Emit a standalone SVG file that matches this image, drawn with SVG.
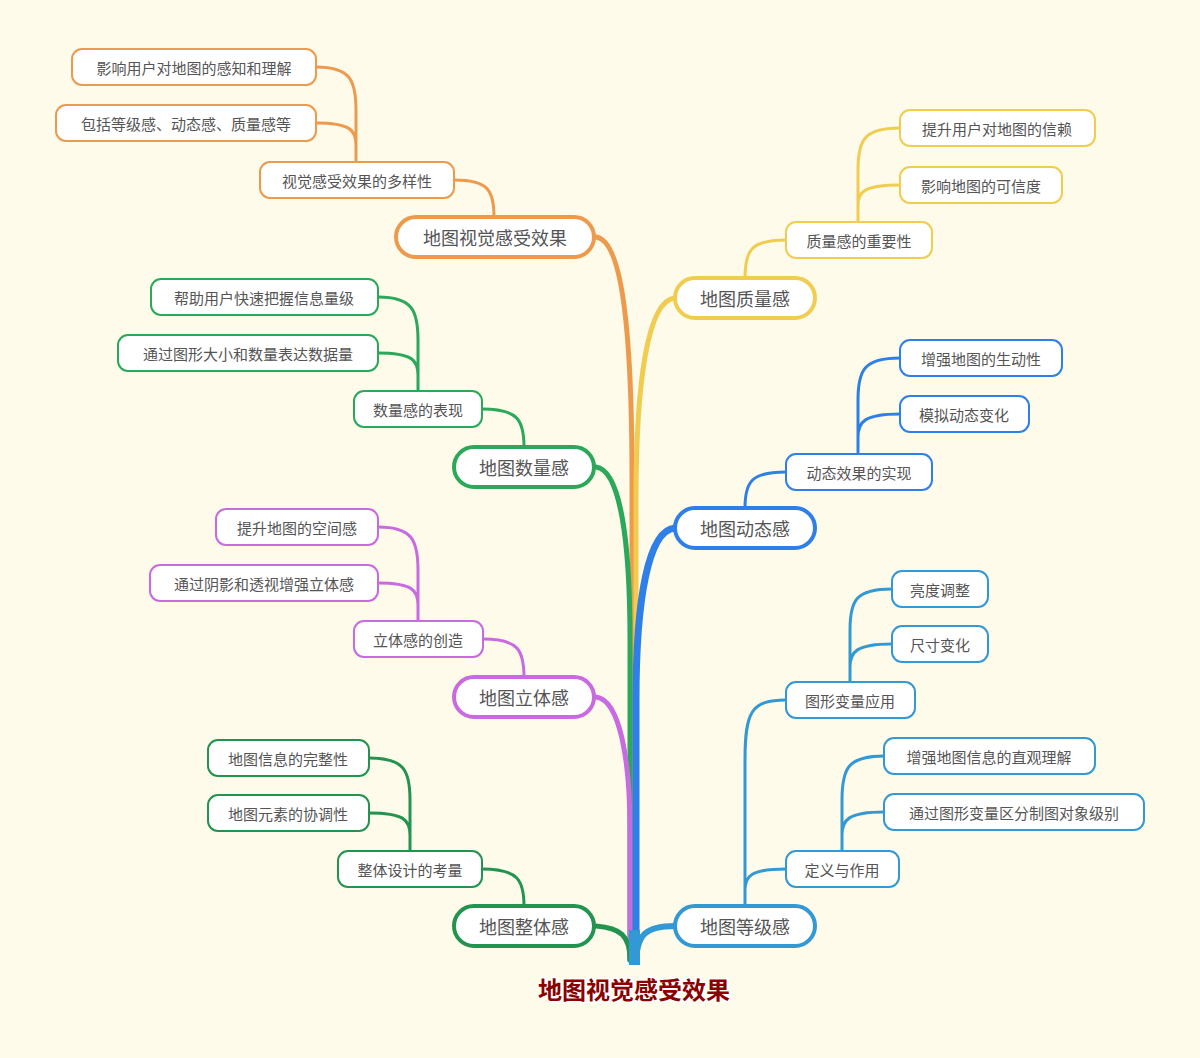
<svg xmlns="http://www.w3.org/2000/svg" width="1200" height="1058" viewBox="0 0 1200 1058">
<style>
text{font-family:"Noto Sans CJK SC","Noto Sans",sans-serif;fill:#555;text-anchor:middle;dominant-baseline:central}
.m rect{fill:#fff;stroke-width:4}
.m text{font-size:18px}
.s rect{fill:#fff;stroke-width:2}
.s text{font-size:15px}
#conn path{fill:none;stroke-linecap:round}
.c1{stroke-width:3}
.t{stroke-width:5}
</style>
<rect width="1200" height="1058" fill="#FEFBEA"/>
<g id="conn">
<path class="t" stroke="#EE9A4D" d="M596,237 C622,240 632,330 632,480 L632,960"/>
<path class="t" stroke="#F0CC50" d="M675,298 C648,300 636,380 636,500 L636,960"/>
<path class="t" stroke="#2BA85A" d="M596,467 C620,470 630,540 630,640 L630,960"/>
<path class="t" stroke="#C86AE0" d="M596,697 C620,700 630,760 630,830 L630,960"/>
<path stroke="#2F7FE8" stroke-width="7" d="M675,528 C648,530 636,600 636,700 L636,960"/>
<path stroke="#23944F" stroke-width="5" d="M596,926 C620,928 630,935 630,960"/>
<path stroke="#3399D4" stroke-width="6" d="M675,926 C645,926 637,935 636,962"/>
<rect x="629" y="930" width="11" height="35" fill="#3399D4"/>
<path class="c1" stroke="#EE9A4D" d="M316,67 C350,67 356,80 356,110 L356,162 M316,123 C350,123 356,130 356,145 M454,180 C488,180 494,190 494,217"/>
<path class="c1" stroke="#F0CC50" d="M900,128 C864,128 858,140 858,170 L858,222 M900,185 C864,185 858,192 858,205 M786,240 C751,240 745,250 745,278"/>
<path class="c1" stroke="#2BA85A" d="M378,297 C412,297 418,310 418,340 L418,391 M378,353 C412,353 418,360 418,375 M482,409 C518,409 524,420 524,447"/>
<path class="c1" stroke="#2F7FE8" d="M900,358 C864,358 858,370 858,400 L858,454 M900,414 C864,414 858,422 858,437 M786,472 C751,472 745,482 745,508"/>
<path class="c1" stroke="#C86AE0" d="M378,527 C412,527 418,540 418,570 L418,621 M378,583 C412,583 418,590 418,605 M483,639 C518,639 524,650 524,677"/>
<path class="c1" stroke="#23944F" d="M369,758 C404,758 410,770 410,800 L410,851 M369,813 C404,813 410,820 410,835 M482,869 C518,869 524,880 524,906"/>
<path class="c1" stroke="#3399D4" d="M892,589 C856,589 850,600 850,630 L850,682 M892,644 C856,644 850,652 850,667 M884,756 C848,756 842,768 842,800 L842,851 M884,812 C848,812 842,820 842,835 M786,700 C751,700 745,712 745,760 L745,906 M786,869 C751,869 745,876 745,890"/>
</g>
<g id="n1" class="m"><rect x="396" y="217" width="198" height="40" rx="20" stroke="#EE9A4D"/><text x="495" y="237">地图视觉感受效果</text></g>
<g id="n1a" class="s"><rect x="260" y="162" width="194" height="36" rx="10" stroke="#EE9A4D"/><text x="357" y="180">视觉感受效果的多样性</text></g>
<g id="n1b" class="s"><rect x="72" y="49" width="244" height="36" rx="10" stroke="#EE9A4D"/><text x="194" y="67">影响用户对地图的感知和理解</text></g>
<g id="n1c" class="s"><rect x="56" y="105" width="260" height="36" rx="10" stroke="#EE9A4D"/><text x="186" y="123">包括等级感、动态感、质量感等</text></g>
<g id="n2" class="m"><rect x="675" y="278" width="140" height="40" rx="20" stroke="#F0CC50"/><text x="745" y="298">地图质量感</text></g>
<g id="n2a" class="s"><rect x="786" y="222" width="146" height="36" rx="10" stroke="#F0CC50"/><text x="859" y="240">质量感的重要性</text></g>
<g id="n2b" class="s"><rect x="900" y="110" width="195" height="36" rx="10" stroke="#F0CC50"/><text x="997" y="128">提升用户对地图的信赖</text></g>
<g id="n2c" class="s"><rect x="900" y="167" width="162" height="36" rx="10" stroke="#F0CC50"/><text x="981" y="185">影响地图的可信度</text></g>
<g id="n3" class="m"><rect x="454" y="447" width="140" height="40" rx="20" stroke="#2BA85A"/><text x="524" y="467">地图数量感</text></g>
<g id="n3a" class="s"><rect x="354" y="391" width="128" height="36" rx="10" stroke="#2BA85A"/><text x="418" y="409">数量感的表现</text></g>
<g id="n3b" class="s"><rect x="151" y="279" width="227" height="36" rx="10" stroke="#2BA85A"/><text x="264" y="297">帮助用户快速把握信息量级</text></g>
<g id="n3c" class="s"><rect x="118" y="335" width="260" height="36" rx="10" stroke="#2BA85A"/><text x="248" y="353">通过图形大小和数量表达数据量</text></g>
<g id="n4" class="m"><rect x="675" y="508" width="140" height="40" rx="20" stroke="#2F7FE8"/><text x="745" y="528">地图动态感</text></g>
<g id="n4a" class="s"><rect x="786" y="454" width="146" height="36" rx="10" stroke="#2F7FE8"/><text x="859" y="472">动态效果的实现</text></g>
<g id="n4b" class="s"><rect x="900" y="340" width="162" height="36" rx="10" stroke="#2F7FE8"/><text x="981" y="358">增强地图的生动性</text></g>
<g id="n4c" class="s"><rect x="900" y="396" width="129" height="36" rx="10" stroke="#2F7FE8"/><text x="964" y="414">模拟动态变化</text></g>
<g id="n5" class="m"><rect x="454" y="677" width="140" height="40" rx="20" stroke="#C86AE0"/><text x="524" y="697">地图立体感</text></g>
<g id="n5a" class="s"><rect x="354" y="621" width="129" height="36" rx="10" stroke="#C86AE0"/><text x="418" y="639">立体感的创造</text></g>
<g id="n5b" class="s"><rect x="216" y="509" width="162" height="36" rx="10" stroke="#C86AE0"/><text x="297" y="527">提升地图的空间感</text></g>
<g id="n5c" class="s"><rect x="150" y="565" width="228" height="36" rx="10" stroke="#C86AE0"/><text x="264" y="583">通过阴影和透视增强立体感</text></g>
<g id="n6" class="m"><rect x="454" y="906" width="140" height="40" rx="20" stroke="#23944F"/><text x="524" y="926">地图整体感</text></g>
<g id="n6a" class="s"><rect x="338" y="851" width="144" height="36" rx="10" stroke="#23944F"/><text x="410" y="869">整体设计的考量</text></g>
<g id="n6b" class="s"><rect x="208" y="740" width="161" height="36" rx="10" stroke="#23944F"/><text x="288" y="758">地图信息的完整性</text></g>
<g id="n6c" class="s"><rect x="208" y="795" width="161" height="36" rx="10" stroke="#23944F"/><text x="288" y="813">地图元素的协调性</text></g>
<g id="n7" class="m"><rect x="675" y="906" width="140" height="40" rx="20" stroke="#3399D4"/><text x="745" y="926">地图等级感</text></g>
<g id="n7a" class="s"><rect x="786" y="682" width="129" height="36" rx="10" stroke="#3399D4"/><text x="850" y="700">图形变量应用</text></g>
<g id="n7b" class="s"><rect x="892" y="571" width="96" height="36" rx="10" stroke="#3399D4"/><text x="940" y="589">亮度调整</text></g>
<g id="n7c" class="s"><rect x="892" y="626" width="96" height="36" rx="10" stroke="#3399D4"/><text x="940" y="644">尺寸变化</text></g>
<g id="n7d" class="s"><rect x="786" y="851" width="113" height="36" rx="10" stroke="#3399D4"/><text x="842" y="869">定义与作用</text></g>
<g id="n7e" class="s"><rect x="884" y="738" width="211" height="36" rx="10" stroke="#3399D4"/><text x="989" y="756">增强地图信息的直观理解</text></g>
<g id="n7f" class="s"><rect x="884" y="794" width="260" height="36" rx="10" stroke="#3399D4"/><text x="1014" y="812">通过图形变量区分制图对象级别</text></g>
<g id="root"><text x="634" y="988" style="font-size:24px;font-weight:bold;fill:#8B0000;stroke:#fff;stroke-width:3;paint-order:stroke">地图视觉感受效果</text></g>
</svg>
